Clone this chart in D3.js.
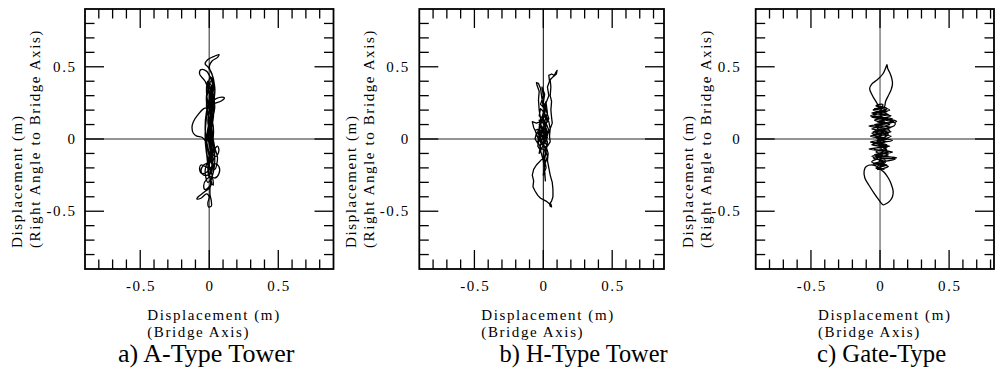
<!DOCTYPE html>
<html><head><meta charset="utf-8">
<script src="https://cdn.jsdelivr.net/npm/d3@7"></script>
<style>
body{margin:0;background:#fff}
svg{display:block}
</style>
</head><body><svg id="chart" width="1000" height="383" font-family="Liberation Serif"></svg>
<script>
// ---------- data ----------
const panelTitles = ["a) A-Type Tower", "b) H-Type Tower", "c) Gate-Type"];
const majorTicks = [-0.5, 0, 0.5];
const majorTickLabels = ["-0.5", "0", "0.5"];
const minorTicks = [-0.8, -0.7, -0.6, -0.4, -0.3, -0.2, -0.1, 0.1, 0.2, 0.3, 0.4, 0.6, 0.7, 0.8];
const xTitle = ["Displacement (m)", "(Bridge Axis)"];
const yTitle = ["Displacement (m)", "(Right Angle to Bridge Axis)"];

// [bridge-axis displacement, right-angle displacement] in m
const aTypeOrbit = [
 [0.00,0.02],[0.02,0.12],[0.01,0.25],[0.03,0.35],[0.02,0.45],[-0.01,0.50],[-0.03,0.52],[-0.01,0.55],[0.03,0.57],[0.07,0.585],
 [0.06,0.565],[0.02,0.54],[0.00,0.50],[0.03,0.42],[0.04,0.33],[0.02,0.22],[0.00,0.10],[-0.02,-0.02],[-0.01,-0.15],[0.02,-0.25],
 [0.03,-0.32],[0.01,-0.28],[-0.01,-0.18],[-0.02,-0.05],[0.00,0.08],[0.02,0.20],[0.00,0.32],[-0.03,0.40],[-0.07,0.45],[-0.06,0.48],
 [-0.02,0.47],[0.01,0.42],[0.03,0.35],[0.02,0.26],[0.05,0.28],[0.09,0.29],[0.11,0.285],[0.09,0.265],[0.05,0.25],[0.02,0.24],
 [0.00,0.22],[-0.04,0.21],[-0.08,0.17],[-0.115,0.12],[-0.125,0.08],[-0.115,0.04],[-0.09,0.02],[-0.05,0.01],[-0.02,-0.03],[0.00,-0.10],
 [0.03,-0.08],[0.06,-0.05],[0.07,-0.08],[0.05,-0.12],[0.02,-0.10],[0.00,-0.04],[-0.01,0.05],[0.01,0.15],[0.03,0.25],[0.02,0.33],
 [0.00,0.28],[-0.02,0.15],[-0.03,0.02],[-0.02,-0.10],[0.00,-0.20],[-0.03,-0.19],[-0.06,-0.18],[-0.07,-0.21],[-0.05,-0.24],[-0.02,-0.23],
 [0.01,-0.20],[0.04,-0.17],[0.07,-0.19],[0.07,-0.24],[0.04,-0.27],[0.01,-0.26],[-0.02,-0.28],[-0.04,-0.32],[-0.03,-0.35],[0.00,-0.33],
 [0.02,-0.30],[0.00,-0.34],[-0.04,-0.37],[-0.08,-0.40],[-0.09,-0.415],[-0.06,-0.41],[-0.02,-0.38],[0.00,-0.40],[-0.01,-0.44],[-0.005,-0.47],
 [0.015,-0.465],[0.015,-0.43],[0.005,-0.38],[0.01,-0.30],[0.03,-0.22],[0.02,-0.12],[0.01,0.00],[0.02,0.12],[0.04,0.22],[0.03,0.30],
 [0.01,0.38],[-0.02,0.30],[-0.01,0.18],[0.01,0.05],[0.03,-0.06],[0.01,-0.16],[-0.02,-0.10],[-0.01,0.02],[0.02,0.14],[0.01,0.27],
 [-0.01,0.36],[0.01,0.43],[0.03,0.38],[0.01,0.24],[-0.01,0.12],[0.02,0.00],[0.04,-0.09],[0.02,-0.18],[0.00,-0.26],[-0.01,-0.20],
 [0.01,-0.08],[0.00,0.04],[0.03,0.15],[0.02,0.30],[-0.01,0.40],[-0.02,0.33],[0.00,0.20],[0.03,0.08],[0.02,-0.05],[-0.01,-0.15],
 [-0.03,-0.22],[-0.01,-0.30],[0.02,-0.26],[0.04,-0.15],[0.03,-0.03],[0.01,0.10],[-0.02,0.22],[-0.01,0.34],[0.02,0.41],[0.04,0.36],
 [0.03,0.24],[0.00,0.12],[-0.02,0.00],[0.00,-0.12],[0.04,-0.21],[0.06,-0.13],[0.04,-0.06],[0.02,0.06],[0.01,0.18],[0.00,0.30],
 [0.02,0.37],[0.01,0.29],[-0.02,0.19],[-0.03,0.07],[-0.01,-0.06],[0.02,-0.16],[0.01,-0.24],[-0.04,-0.25],[-0.06,-0.22],[-0.04,-0.18],
 [0.00,-0.16],[0.02,-0.08],[0.01,0.02],[0.03,0.16],[0.02,0.27],[0.00,0.35],[-0.02,0.26],[0.00,0.14],[0.02,0.02],[0.01,-0.10],[0.00,-0.19]
];

const hTypeOrbit = [
 [0.00,0.00],[0.02,0.05],[0.01,0.12],[0.03,0.18],[0.02,0.25],[0.04,0.30],[0.03,0.36],[0.045,0.40],[0.04,0.44],[0.06,0.45],
 [0.08,0.44],[0.09,0.46],[0.10,0.475],[0.095,0.45],[0.07,0.43],[0.05,0.41],[0.055,0.36],[0.05,0.30],[0.06,0.26],[0.055,0.20],
 [0.06,0.15],[0.065,0.11],[0.05,0.07],[0.045,0.02],[0.05,-0.02],[0.03,-0.05],[0.01,-0.02],[-0.01,0.03],[-0.03,0.08],[-0.02,0.14],
 [-0.03,0.20],[-0.035,0.27],[-0.03,0.33],[-0.045,0.37],[-0.05,0.39],[-0.035,0.385],[-0.02,0.35],[-0.01,0.28],[0.00,0.22],[0.02,0.26],
 [0.01,0.17],[-0.02,0.12],[-0.05,0.11],[-0.08,0.12],[-0.07,0.08],[-0.05,0.04],[-0.06,0.00],[-0.04,-0.03],[-0.02,0.02],[0.00,0.06],
 [0.02,0.02],[0.03,-0.04],[0.01,-0.08],[-0.02,-0.06],[-0.04,-0.02],[-0.03,0.03],[0.00,0.08],[0.03,0.12],[0.01,0.16],[-0.02,0.10],
 [-0.03,0.04],[-0.01,-0.02],[0.02,-0.07],[0.01,-0.12],[-0.02,-0.15],[-0.05,-0.18],[-0.07,-0.21],[-0.08,-0.25],[-0.07,-0.29],[-0.075,-0.33],
 [-0.06,-0.36],[-0.04,-0.39],[-0.02,-0.41],[0.00,-0.42],[0.02,-0.43],[0.04,-0.445],[0.055,-0.45],[0.06,-0.47],[0.05,-0.465],[0.045,-0.45],
 [0.06,-0.43],[0.07,-0.40],[0.07,-0.35],[0.065,-0.30],[0.05,-0.25],[0.04,-0.20],[0.03,-0.15],[0.035,-0.10],[0.02,-0.05],[0.00,-0.10],
 [0.005,-0.18],[0.01,-0.24],[0.015,-0.29],[0.01,-0.22],[0.00,-0.15],[-0.02,-0.08],[-0.04,-0.05],[-0.03,0.01],[-0.01,0.06],[0.01,0.04],
 [0.02,0.10],[0.00,0.14],[-0.03,0.16],[-0.02,0.21],[0.00,0.19],[0.02,0.16],[0.04,0.12],[0.05,0.07],[0.03,0.03],[0.00,0.00],
 [-0.02,0.03],[0.01,0.07],[-0.03,0.10],[0.00,0.13],[0.02,0.09],[-0.01,0.05],[0.03,0.01],[0.00,-0.03],[-0.03,-0.01],[-0.05,0.03],
 [-0.03,0.07],[-0.06,0.06],[-0.04,0.01],[-0.01,-0.04],[0.01,0.00],[0.03,0.05],[0.01,0.10],[0.04,0.14],[0.02,0.20],[0.00,0.25],
 [0.01,0.31],[-0.01,0.36],[0.00,0.30],[-0.02,0.24],[0.01,0.21],[-0.01,0.15],[0.02,0.11],[0.04,0.06],[0.02,-0.01],[-0.01,-0.06],
 [-0.03,-0.10],[-0.02,-0.04],[0.00,0.02],[0.02,0.07],[0.00,0.11],[-0.03,0.13],[-0.01,0.08],[0.01,0.03],[0.03,-0.02],[0.02,-0.09],
 [0.01,-0.14],[0.02,-0.20],[0.00,-0.25],[0.01,-0.18],[0.03,-0.12],[0.01,-0.06],[-0.02,-0.01],[-0.04,0.05],[-0.02,0.09],[0.00,0.04]
];

const gateTypeOrbit = [
 [0.00,0.00],[0.06,0.03],[-0.05,0.05],[0.08,0.08],[-0.04,0.10],[0.12,0.12],[0.10,0.13],[-0.06,0.15],[0.06,0.17],[-0.05,0.20],
 [0.03,0.22],[0.00,0.22],[-0.03,0.26],[-0.06,0.31],[-0.075,0.35],[-0.06,0.38],[-0.02,0.41],[0.02,0.45],[0.04,0.49],[0.05,0.515],
 [0.055,0.49],[0.07,0.46],[0.085,0.42],[0.09,0.38],[0.08,0.34],[0.06,0.30],[0.04,0.26],[0.03,0.22],[-0.04,0.21],[0.05,0.19],
 [-0.07,0.16],[0.09,0.14],[-0.02,0.12],[0.07,0.10],[-0.06,0.07],[0.08,0.05],[-0.07,0.02],[0.09,-0.01],[-0.05,-0.03],[0.07,-0.05],
 [-0.08,-0.07],[0.06,-0.09],[-0.04,-0.11],[0.12,-0.13],[0.09,-0.135],[-0.02,-0.14],[-0.06,-0.16],[0.05,-0.18],[-0.03,-0.20],[0.03,-0.21],
 [0.00,-0.20],[-0.05,-0.18],[-0.10,-0.19],[-0.115,-0.22],[-0.11,-0.27],[-0.08,-0.32],[-0.04,-0.38],[-0.01,-0.42],[0.02,-0.455],[0.04,-0.45],
 [0.07,-0.43],[0.09,-0.40],[0.095,-0.36],[0.08,-0.31],[0.06,-0.27],[0.03,-0.23],[-0.02,-0.19],[0.04,-0.16],[-0.05,-0.13],[0.06,-0.11],
 [-0.03,-0.09],[0.05,-0.06],[-0.06,-0.04],[0.04,-0.02],[-0.03,0.01],[0.06,0.04],[-0.02,0.06],[0.10,0.09],[0.11,0.11],[0.00,0.14],
 [-0.05,0.17],[0.04,0.20],[-0.03,0.23],[0.02,0.24],[0.00,0.18],[0.03,0.12],[-0.02,0.08],[0.04,0.02],[-0.01,-0.03],[0.05,-0.08],
 [0.00,-0.12],[0.04,-0.15],[-0.01,-0.17],[0.02,-0.09],[-0.02,-0.02],[0.01,0.03],[0.00,0.00],[0.08,0.02],[-0.06,0.04],[0.05,0.07],
 [-0.08,0.09],[0.06,0.11],[-0.04,0.13],[0.08,0.16],[-0.06,0.18],[0.07,0.20],[-0.02,0.23],[0.05,0.21],[-0.05,0.17],[0.10,0.12],
 [-0.03,0.09],[0.07,0.06],[-0.05,0.03],[0.06,0.00],[-0.07,-0.02],[0.05,-0.04],[-0.04,-0.07],[0.09,-0.09],[-0.06,-0.12],[0.11,-0.14],
 [-0.05,-0.17],[0.06,-0.19],[-0.02,-0.21],[0.02,-0.17],[-0.03,-0.12],[0.04,-0.07],[-0.02,-0.01],[0.00,0.00]
];

const orbits = [aTypeOrbit, hTypeOrbit, gateTypeOrbit];

// ---------- layout ----------
const panels = [
 {left:85,    right:333.5, xMax:0.9,   titleX:118,   titleSize:26,   yLabelGap:10, vAxisColor:"#707070", vAxisW:1.5},
 {left:419.3, right:664,   xMax:0.876, titleX:499.5, titleSize:24.4, yLabelGap:11, vAxisColor:"#000",    vAxisW:1},
 {left:755.7, right:994,   xMax:0.825, titleX:817,   titleSize:24.7, yLabelGap:16, vAxisColor:"#606060", vAxisW:1.2}
];
const plotTop = 9, plotBottom = 269;
const minorLen = 9.5, majorLen = 19;
const ls = 1.6;
const FONT = "Liberation Serif";

const svg = d3.select("#chart");

function txt(g, s, size, spacing) {
  return g.append("text").attr("font-family", FONT).attr("font-size", size)
    .attr("letter-spacing", spacing).attr("fill", "#000").text(s);
}

panels.forEach((p, i) => {
  const x = d3.scaleLinear().domain([-0.9, p.xMax]).range([p.left, p.right]);
  const y = d3.scaleLinear().domain([-0.9, 0.9]).range([plotBottom, plotTop]);
  const g = svg.append("g");

  // zero lines
  g.append("line").attr("x1", p.left).attr("x2", p.right).attr("y1", y(0)).attr("y2", y(0))
    .attr("stroke", "#707070").attr("stroke-width", 1.6);
  g.append("line").attr("x1", x(0)).attr("x2", x(0)).attr("y1", plotTop).attr("y2", plotBottom)
    .attr("stroke", p.vAxisColor).attr("stroke-width", p.vAxisW);

  // ticks
  const tickG = g.append("g").attr("stroke", "#000").attr("stroke-width", 1.3);
  const allTicks = majorTicks.map(v => ({v, len: majorLen})).concat(minorTicks.map(v => ({v, len: minorLen})));
  allTicks.forEach(t => {
    if (t.v < p.xMax) {
      tickG.append("line").attr("x1", x(t.v)).attr("x2", x(t.v)).attr("y1", plotBottom).attr("y2", plotBottom - t.len);
      tickG.append("line").attr("x1", x(t.v)).attr("x2", x(t.v)).attr("y1", plotTop).attr("y2", plotTop + t.len);
    }
    tickG.append("line").attr("y1", y(t.v)).attr("y2", y(t.v)).attr("x1", p.left).attr("x2", p.left + t.len);
    tickG.append("line").attr("y1", y(t.v)).attr("y2", y(t.v)).attr("x1", p.right).attr("x2", p.right - t.len);
  });

  // frame
  g.append("rect").attr("x", p.left).attr("y", plotTop).attr("width", p.right - p.left).attr("height", plotBottom - plotTop)
    .attr("fill", "none").attr("stroke", "#000").attr("stroke-width", 1.8);

  // orbit
  const line = d3.line().x(d => x(d[0])).y(d => y(d[1])).curve(i === 1 ? d3.curveLinear : d3.curveCatmullRom.alpha(0.5));
  g.append("path").datum(orbits[i]).attr("d", line)
    .attr("fill", "none").attr("stroke", "#000").attr("stroke-width", 1.3).attr("stroke-linejoin", "round");

  // tick labels
  majorTicks.forEach((v, k) => {
    txt(g, majorTickLabels[k], 15, ls).attr("x", x(v) + ls / 2).attr("y", 291).attr("text-anchor", "middle");
    txt(g, majorTickLabels[k], 15, ls).attr("x", p.left - p.yLabelGap + ls).attr("y", y(v)).attr("dy", "0.35em").attr("text-anchor", "end");
  });

  // axis titles
  txt(g, xTitle[0], 15, ls).attr("x", x(0) - 62).attr("y", 320);
  txt(g, xTitle[1], 15, ls).attr("x", x(0) - 62).attr("y", 337);
  txt(g, yTitle[0], 15, ls).attr("transform", `translate(${p.left - 63},248) rotate(-90)`);
  txt(g, yTitle[1], 15, ls).attr("transform", `translate(${p.left - 45},248) rotate(-90)`);

  // panel title
  txt(g, panelTitles[i], p.titleSize, 0).attr("x", p.titleX).attr("y", 362);
});
</script>
</body></html>
